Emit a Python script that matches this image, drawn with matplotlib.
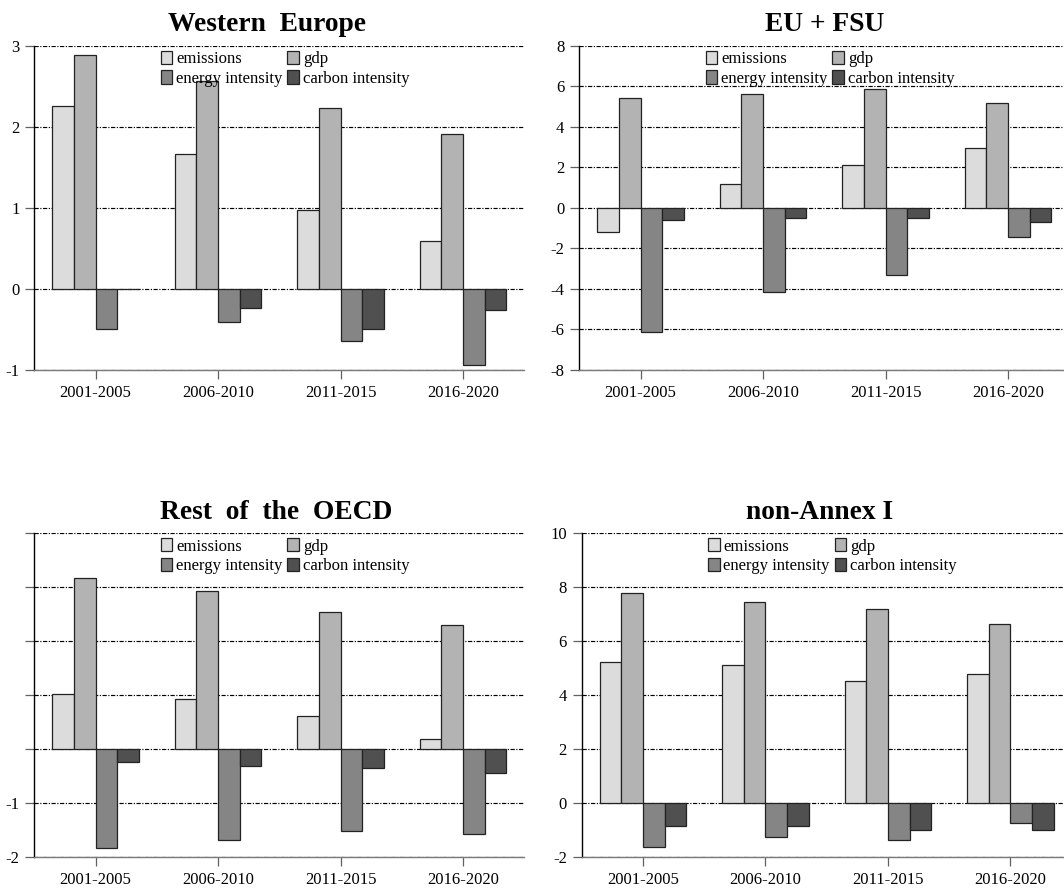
import matplotlib
matplotlib.use("Agg")
import matplotlib.pyplot as plt
import numpy as np

plt.rcParams['font.family'] = ['Liberation Serif', 'DejaVu Serif']

periods = ["2001-2005", "2006-2010", "2011-2015", "2016-2020"]
series_names = ["emissions", "gdp", "energy intensity", "carbon intensity"]
series_colors = ["#dcdcdc", "#b3b3b3", "#858585", "#505050"]

# Western Europe
we_emissions = [2.26, 1.67, 0.97, 0.59]
we_gdp = [2.88, 2.56, 2.23, 1.91]
we_energy = [-0.50, -0.41, -0.645, -0.94]
we_carbon = [0.0, -0.24, -0.50, -0.265]

# EU + FSU
eu_emissions = [-1.19, 1.18, 2.12, 2.94]
eu_gdp = [5.40, 5.63, 5.88, 5.16]
eu_energy = [-6.12, -4.13, -3.30, -1.42]
eu_carbon = [-0.62, -0.49, -0.49, -0.72]

# Rest of the OECD
ro_emissions = [1.02, 0.94, 0.62, 0.185]
ro_gdp = [3.17, 2.94, 2.54, 2.31]
ro_energy = [-1.82, -1.68, -1.51, -1.56]
ro_carbon = [-0.23, -0.31, -0.35, -0.44]

# non-Annex I
na_emissions = [5.25, 5.14, 4.53, 4.79]
na_gdp = [7.80, 7.46, 7.19, 6.65]
na_energy = [-1.62, -1.26, -1.35, -0.73]
na_carbon = [-0.84, -0.84, -0.99, -0.99]

panels = [
    dict(title="Western  Europe", data=[we_emissions, we_gdp, we_energy, we_carbon],
         ylim=(-1, 3), yticks=[-1, 0, 1, 2, 3], ylabels=["-1", "0", "1", "2", "3"], tx=0.475),
    dict(title="EU + FSU", data=[eu_emissions, eu_gdp, eu_energy, eu_carbon],
         ylim=(-8, 8), yticks=[-8, -6, -4, -2, 0, 2, 4, 6, 8],
         ylabels=["-8", "-6", "-4", "-2", "0", "2", "4", "6", "8"], tx=0.5),
    dict(title="Rest  of  the  OECD", data=[ro_emissions, ro_gdp, ro_energy, ro_carbon],
         ylim=(-2, 4), yticks=[-2, -1, 0, 1, 2, 3, 4], ylabels=["-2", "-1", "", "", "", "", ""],
         tx=0.494),
    dict(title="non-Annex I", data=[na_emissions, na_gdp, na_energy, na_carbon],
         ylim=(-2, 10), yticks=[-2, 0, 2, 4, 6, 8, 10],
         ylabels=["-2", "0", "2", "4", "6", "8", "10"], tx=0.485),
]

W, H = 1064, 889
fig = plt.figure(figsize=(W / 100, H / 100), dpi=100)

# axes rectangles in pixels: left, top, right, bottom
rects = [
    (34.3, 45.7, 524.3, 370.0),
    (579.3, 45.7, 1069.3, 370.0),
    (34.3, 533.3, 524.3, 857.3),
    (581.7, 533.3, 1071.7, 857.3),
]

grid_ls = (0, (3.6, 1.3, 1.0, 1.3))
bw = 0.177
x = np.arange(len(periods))

for p, (l, t, r, b) in zip(panels, rects):
    ax = fig.add_axes([l / W, 1 - b / H, (r - l) / W, (b - t) / H])
    handles = []
    for i, (vals, col, name) in enumerate(zip(p["data"], series_colors, series_names)):
        h = ax.bar(x + (i - 1.5) * bw, vals, width=bw, color=col,
                   edgecolor="#222222", linewidth=0.9, label=name, zorder=3)
        handles.append(h)
    ax.set_xlim(-0.5, 3.5)
    ax.set_ylim(*p["ylim"])
    ax.set_yticks(p["yticks"])
    ax.set_yticklabels(p["ylabels"])
    ax.set_xticks(x)
    ax.set_xticklabels(periods)
    ax.set_axisbelow(True)
    ax.yaxis.grid(True, color="black", linestyle=grid_ls, linewidth=0.85, zorder=0)
    for s in ["top", "right"]:
        ax.spines[s].set_visible(False)
    ax.spines["left"].set_color("black")
    ax.spines["left"].set_linewidth(1.0)
    ax.spines["bottom"].set_color("#7a7a7a")
    ax.spines["bottom"].set_linewidth(1.0)
    ax.tick_params(axis="both", labelsize=12, direction="out", length=6.7, width=0.9,
                   color="#606060", pad=4)
    ax.set_title(p["title"], fontsize=19.8, fontweight="bold", pad=10.5, x=p["tx"])
    order = [0, 2, 1, 3]
    ax.legend([handles[k] for k in order], [series_names[k] for k in order],
              ncol=2, loc="upper left", bbox_to_anchor=(0.258, 0.985),
              frameon=False, fontsize=12, borderpad=0, borderaxespad=0,
              handlelength=0.7, handleheight=0.85, handletextpad=0.22,
              columnspacing=0.3, labelspacing=0.2)

fig.savefig("out.png", dpi=100)
